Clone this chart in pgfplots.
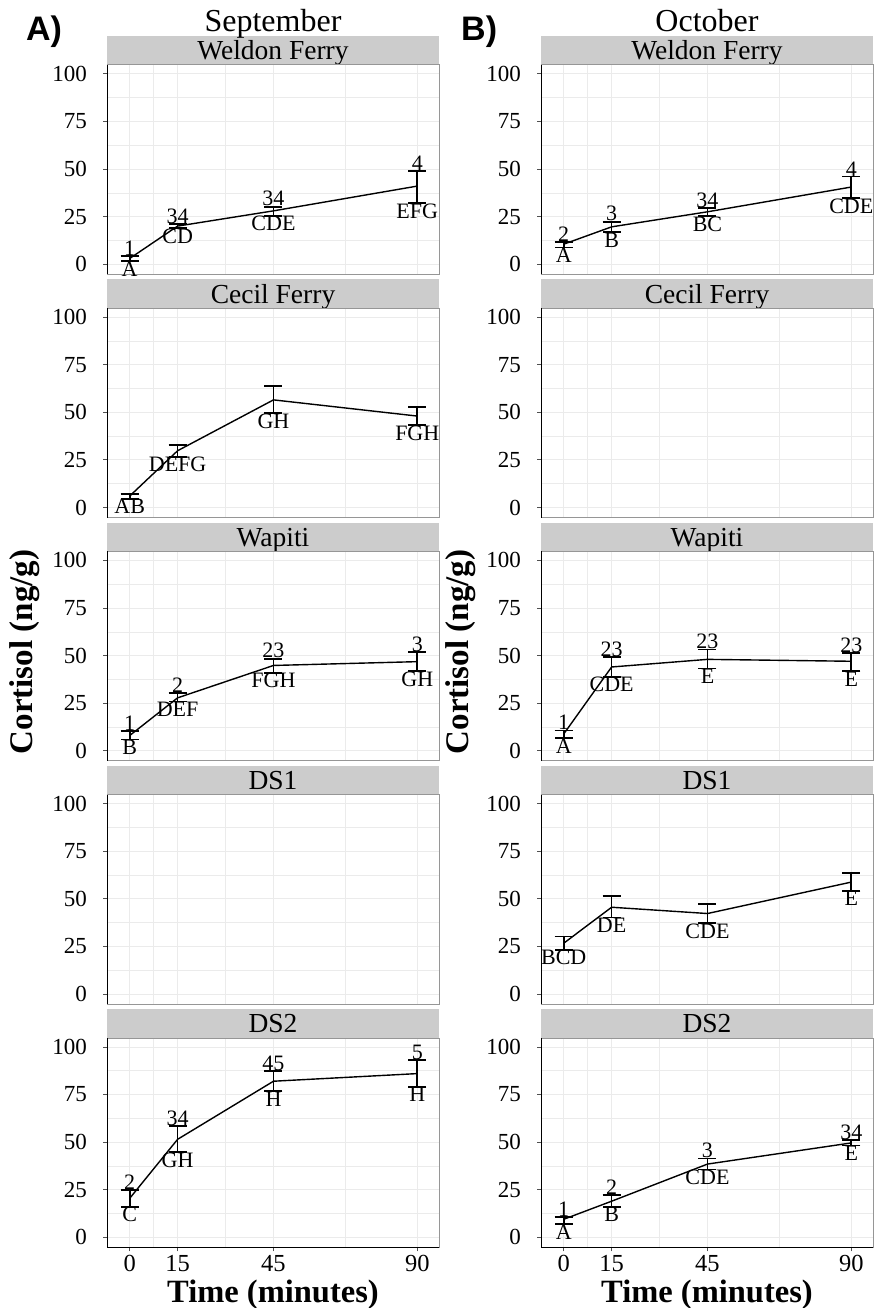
\documentclass[border=0pt]{standalone}
\usepackage{fontspec}
\setmainfont{Liberation Serif}
\newfontfamily\sansfont{Liberation Sans}
\usepackage{pgfplots}
\pgfplotsset{compat=1.18}
\usepackage{pgfplotstable}
\definecolor{stripgray}{RGB}{204,204,204}
\definecolor{gridgray}{RGB}{235,235,235}
\definecolor{bordergray}{RGB}{150,150,150}
\definecolor{tickgray}{RGB}{80,80,80}

\pgfplotstableread{
t m lo hi up dn
0 3 1.6 4.2 1 A
15 20 18.9 21 34 CD
45 28 25.4 30.2 34 CDE
90 41 32.1 49.1 4 EFG
}\wfsep
\pgfplotstableread{
t m lo hi up dn
0 10.5 8.8 11.6 2 A
15 19.6 16.7 22.3 3 B
45 27.5 25.1 29.5 34 BC
90 40.5 34.7 46 4 CDE
}\wfoct
\pgfplotstableread{
t m lo hi dn
0 6 4.5 7 AB
15 29.8 26.7 32.8 DEFG
45 56.5 49.5 63.8 GH
90 48 43.3 52.8 FGH
}\cfsep
\pgfplotstableread{
t m lo hi up dn
0 8 5.9 10.2 1 B
15 27.8 25.9 30.5 2 DEF
45 44.8 41 48.4 23 FGH
90 46.8 41.7 51.9 3 GH
}\wasep
\pgfplotstableread{
t m lo hi up dn
0 8.8 6.7 10.7 1 A
15 44 38.8 49.3 23 CDE
45 48 43.2 53.2 23 E
90 47 41.7 51.4 23 E
}\waoct
\pgfplotstableread{
t m lo hi dn
0 26.7 23.2 30.2 BCD
15 45.6 40.2 51.3 DE
45 42.3 37.2 47.4 CDE
90 58.8 54.2 63.5 E
}\dsaoct
\pgfplotstableread{
t m lo hi up dn
0 20.5 16 25 2 C
15 51.5 44.7 58.4 34 GH
45 82 76.8 87.4 45 H
90 86 79.1 93.2 5 H
}\dsbsep
\pgfplotstableread{
t m lo hi up dn
0 9.5 7 10.7 1 A
15 19 16 22.1 2 B
45 38.5 35.6 41.4 3 CDE
90 49.6 48.2 51 34 E
}\dsboct

\pgfplotsset{
  panel/.style={
    scale only axis, width=332pt, height=209.5pt, anchor=north west,
    xmin=-7.1, xmax=96.8, ymin=-5.26, ymax=104.74,
    xtick={0,15,45,90}, ytick={0,25,50,75,100},
    minor xtick={7.5,30,67.5}, minor ytick={12.5,37.5,62.5,87.5},
    grid=both,
    major grid style={draw=gridgray, line width=0.8pt},
    minor grid style={draw=gridgray, line width=0.5pt},
    axis line style={draw=bordergray, line width=0.8pt},
    tick align=outside, major tick length=4pt, minor tick length=0pt,
    xtick pos=left, ytick pos=left,
    ytick style={draw=tickgray, line width=0.8pt},
    /pgf/number format/assume math mode=true,
    yticklabel style={font=\fontsize{23}{23}\selectfont, inner sep=0pt, xshift=-16pt},
    clip=false,
  },
  toprow/.style={xticklabels={}, xtick style={draw=none}},
  botrow/.style={xtick style={draw=tickgray, line width=0.8pt},
    xticklabel style={font=\fontsize{24.5}{24.5}\selectfont, inner sep=0pt, yshift=-4pt}},
  meanline/.style={black, line width=1.4pt, mark=none,
    error bars/.cd, y dir=both, y explicit,
    error bar style={line width=1.7pt, black},
    error mark options={black, line width=1.8pt, mark size=9pt, rotate=90}},
  uplab/.style={draw=none, mark=none, nodes near coords, point meta=explicit symbolic,
    nodes near coords style={anchor=south, inner sep=0.3pt, black, font=\fontsize{22}{22}\selectfont}},
  dnlab/.style={draw=none, mark=none, nodes near coords, point meta=explicit symbolic,
    nodes near coords style={anchor=north, inner sep=0.3pt, black, font=\fontsize{22}{22}\selectfont}},
}

\newcommand{\ylineblack}{\draw[black, line width=1pt] (rel axis cs:0,0) -- (rel axis cs:0,1);}
\newcommand{\xlineblack}{\draw[black, line width=1pt] (rel axis cs:0,0) -- (rel axis cs:1,0);}
\newcommand{\meanplot}[1]{\addplot[meanline] table[x=t, y=m, y error plus expr=\thisrow{hi}-\thisrow{m}, y error minus expr=\thisrow{m}-\thisrow{lo}] {#1};}
\newcommand{\upplot}[1]{\addplot[uplab] table[x=t, y=hi, meta=up] {#1};}
\newcommand{\dnplot}[1]{\addplot[dnlab] table[x=t, y=lo, meta=dn] {#1};}

\begin{document}
\begin{tikzpicture}
\useasboundingbox (0,0) rectangle (874pt,-1308pt);

% strips
\foreach \k/\nm in {0/Weldon Ferry,1/Cecil Ferry,2/Wapiti,3/DS1,4/DS2}{
  \pgfmathsetmacro{\st}{-36-243.3*\k}
  \pgfmathsetmacro{\sb}{\st-28.7}
  \pgfmathsetmacro{\bl}{\sb+5}
  \fill[stripgray] (107pt,\st pt) rectangle (439pt,\sb pt);
  \fill[stripgray] (541pt,\st pt) rectangle (873pt,\sb pt);
  \node[anchor=base, inner sep=0pt, font=\fontsize{27.5}{27.5}\selectfont] at (273pt,\bl pt) {\nm};
  \node[anchor=base, inner sep=0pt, font=\fontsize{27.5}{27.5}\selectfont] at (707pt,\bl pt) {\nm};
}

% row 1
\begin{axis}[panel, toprow, at={(107pt,-64.7pt)}]
\meanplot{\wfsep}\upplot{\wfsep}\dnplot{\wfsep}
\ylineblack
\end{axis}
\begin{axis}[panel, toprow, at={(541pt,-64.7pt)}]
\meanplot{\wfoct}\upplot{\wfoct}\dnplot{\wfoct}
\ylineblack
\end{axis}
% row 2
\begin{axis}[panel, toprow, at={(107pt,-308pt)}]
\meanplot{\cfsep}\dnplot{\cfsep}
\ylineblack
\end{axis}
\begin{axis}[panel, toprow, at={(541pt,-308pt)}]
\ylineblack
\end{axis}
% row 3
\begin{axis}[panel, toprow, at={(107pt,-551.3pt)}]
\meanplot{\wasep}\upplot{\wasep}\dnplot{\wasep}
\ylineblack
\end{axis}
\begin{axis}[panel, toprow, at={(541pt,-551.3pt)}]
\meanplot{\waoct}\upplot{\waoct}\dnplot{\waoct}
\ylineblack
\end{axis}
% row 4
\begin{axis}[panel, toprow, at={(107pt,-794.6pt)}]
\ylineblack
\end{axis}
\begin{axis}[panel, toprow, at={(541pt,-794.6pt)}]
\meanplot{\dsaoct}\dnplot{\dsaoct}
\ylineblack
\end{axis}
% row 5
\begin{axis}[panel, botrow, at={(107pt,-1037.9pt)}]
\meanplot{\dsbsep}\upplot{\dsbsep}\dnplot{\dsbsep}
\ylineblack\xlineblack
\end{axis}
\begin{axis}[panel, botrow, at={(541pt,-1037.9pt)}]
\meanplot{\dsboct}\upplot{\dsboct}\dnplot{\dsboct}
\ylineblack\xlineblack
\end{axis}

% titles
\node[anchor=base, inner sep=0pt, font=\fontsize{32}{32}\selectfont] at (273pt,-32pt) {September};
\node[anchor=base, inner sep=0pt, font=\fontsize{32}{32}\selectfont] at (707pt,-32pt) {October};
\node[anchor=base west, inner sep=0pt, font=\sansfont\bfseries\fontsize{34}{34}\selectfont] at (26pt,-41pt) {A)};
\node[anchor=base west, inner sep=0pt, font=\sansfont\bfseries\fontsize{34}{34}\selectfont] at (461pt,-41pt) {B)};
\node[anchor=base, inner sep=0pt, font=\bfseries\fontsize{32.5}{32.5}\selectfont] at (273pt,-1302pt) {Time (minutes)};
\node[anchor=base, inner sep=0pt, font=\bfseries\fontsize{32.5}{32.5}\selectfont] at (707pt,-1302pt) {Time (minutes)};
\node[rotate=90, anchor=center, inner sep=0pt, font=\bfseries\fontsize{33}{33}\selectfont] at (25pt,-652pt) {Cortisol (ng/g)};
\node[rotate=90, anchor=center, inner sep=0pt, font=\bfseries\fontsize{33}{33}\selectfont] at (461pt,-652pt) {Cortisol (ng/g)};
\end{tikzpicture}
\end{document}
